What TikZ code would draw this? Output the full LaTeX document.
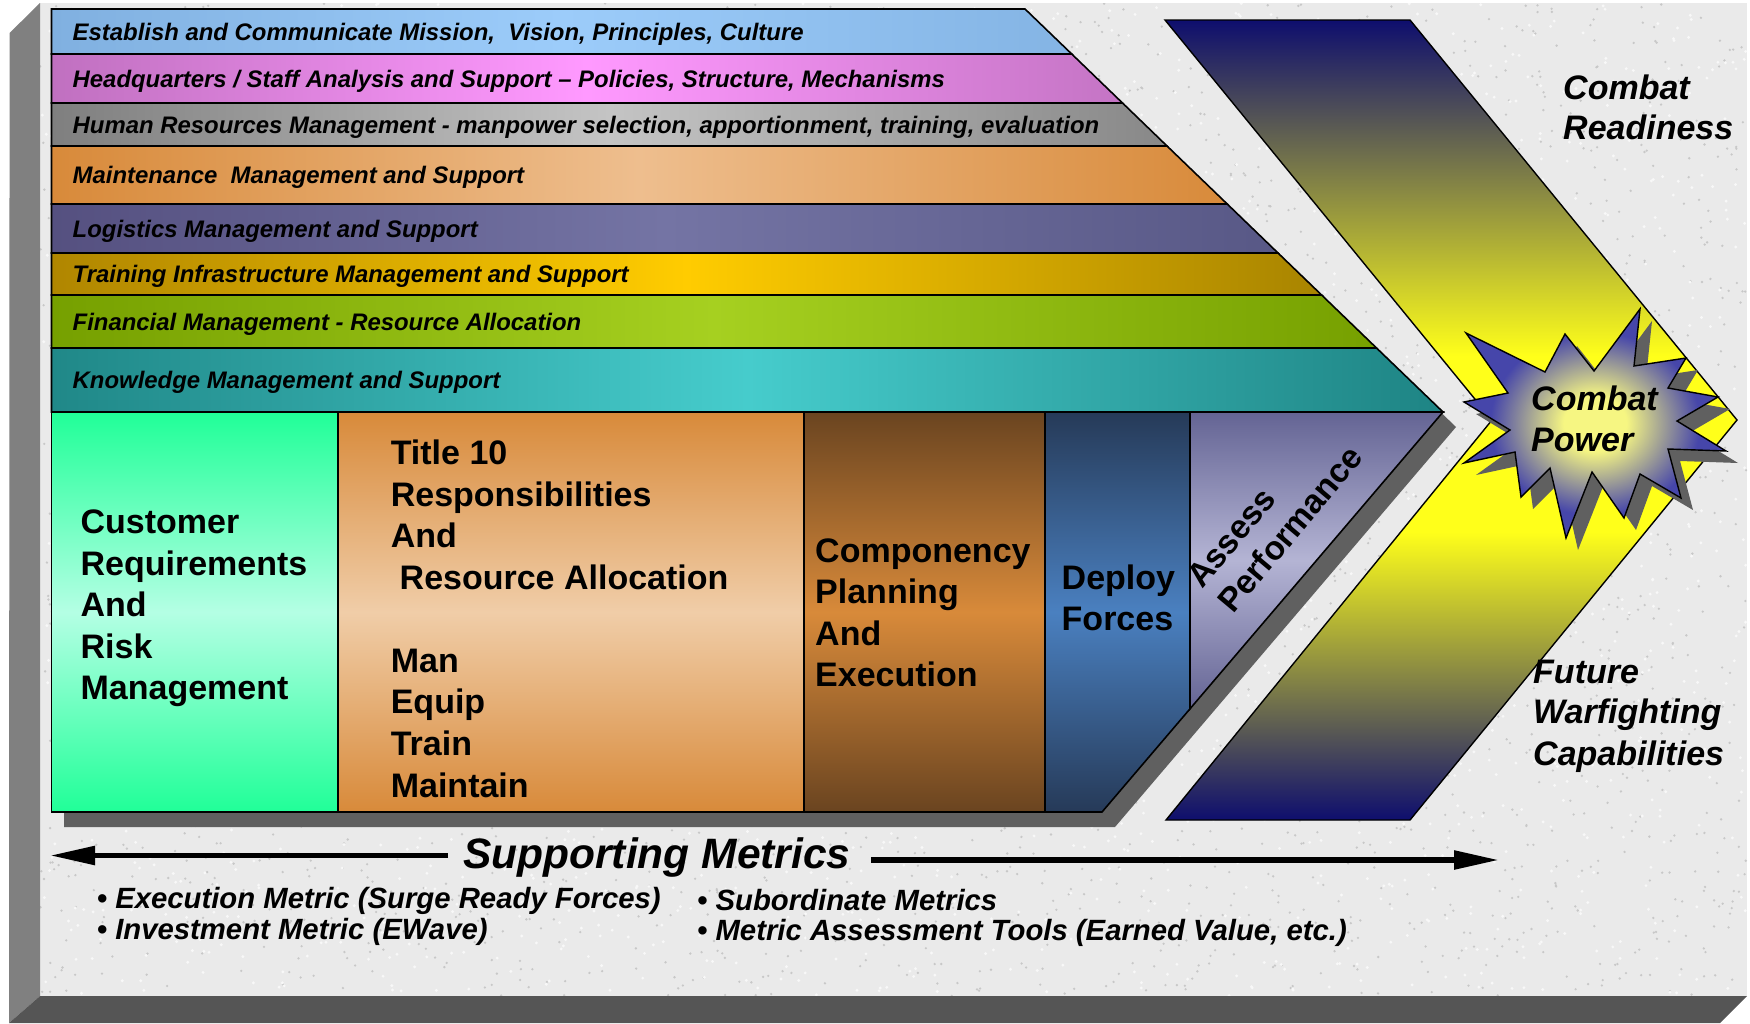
\documentclass[tikz,border=0pt]{standalone}
\usepackage{fontspec}
\setmainfont{Liberation Sans}
\usetikzlibrary{arrows.meta}
\definecolor{navyc}{RGB}{14,14,110}
\definecolor{yelc}{RGB}{255,255,26}
\definecolor{burstin}{RGB}{246,246,130}
\definecolor{burstout}{RGB}{70,70,170}
\definecolor{panel}{HTML}{EAEAEA}
\definecolor{speckd}{HTML}{C8C8C8}
\definecolor{speckl}{HTML}{F8F8F8}
\definecolor{bevl}{HTML}{808080}
\definecolor{bevb}{HTML}{555555}
\definecolor{shadowg}{HTML}{606060}
\definecolor{bIL}{HTML}{80B0E0}\definecolor{bIM}{HTML}{9CCCFA}\definecolor{bIR}{HTML}{84B4E4}
\definecolor{bIIL}{HTML}{C070C0}\definecolor{bIIM}{HTML}{FF99FF}\definecolor{bIIR}{HTML}{C474C4}
\definecolor{bIIIL}{HTML}{7F7F7F}\definecolor{bIIIM}{HTML}{C4C4C4}\definecolor{bIIIR}{HTML}{888888}
\definecolor{bIVL}{HTML}{D88A3A}\definecolor{bIVM}{HTML}{EEBE8E}\definecolor{bIVR}{HTML}{D88A3A}
\definecolor{bVL}{HTML}{555080}\definecolor{bVM}{HTML}{7474A4}\definecolor{bVR}{HTML}{585886}
\definecolor{bVIL}{HTML}{B08600}\definecolor{bVIM}{HTML}{FFCC00}\definecolor{bVIR}{HTML}{A88400}
\definecolor{bVIIL}{HTML}{76A000}\definecolor{bVIIM}{HTML}{A6D020}\definecolor{bVIIR}{HTML}{76A000}
\definecolor{bVIIIL}{HTML}{208888}\definecolor{bVIIIM}{HTML}{46CCCC}\definecolor{bVIIIR}{HTML}{1E8484}
\definecolor{custT}{HTML}{20FF98}\definecolor{custM}{HTML}{B4FFE4}
\definecolor{titT}{HTML}{D88A3A}\definecolor{titM}{HTML}{F0CDA8}
\definecolor{compT}{HTML}{6A4420}\definecolor{compM}{HTML}{D88A3A}
\definecolor{depT}{HTML}{263A58}\definecolor{depM}{HTML}{4A80C0}
\definecolor{assT}{HTML}{646494}\definecolor{assM}{HTML}{B4B4D4}
\pgfdeclareverticalshading{chevshade}{100bp}{color(0bp)=(navyc); color(25bp)=(navyc); color(43bp)=(yelc); color(54bp)=(yelc); color(75bp)=(navyc); color(100bp)=(navyc)}
\pgfdeclareradialshading{burstshade}{\pgfpoint{0bp}{0bp}}{color(0bp)=(burstin); color(6bp)=(burstin); color(20bp)=(burstout); color(50bp)=(burstout)}
\newcommand\bandfnt{\fontsize{23.9}{28}\selectfont\bfseries\itshape}
\newcommand\boxfnt{\fontsize{34}{40}\selectfont\bfseries}
\newcommand\bigitfnt{\fontsize{34}{40}\selectfont\bfseries\itshape}
\newcommand\metfnt{\fontsize{29.3}{34}\selectfont\bfseries\itshape}
\begin{document}
\begin{tikzpicture}[x=1pt,y=-1pt,
  outl/.style={draw=black, line width=1.6pt},
  bandtext/.style={anchor=base west, inner sep=0pt, font=\bandfnt},
  boxtext/.style={anchor=base west, inner sep=0pt, font=\boxfnt},
  bigit/.style={anchor=base west, inner sep=0pt, font=\bigitfnt},
  mettext/.style={anchor=base west, inner sep=0pt, font=\metfnt},
  metarrow/.style={line width=5.5pt, -{Triangle[length=45pt,width=18pt]}},
  starp/.style={insert path={(1466,333) -- (1545,372) -- (1565,334) -- (1594,371) -- (1640,309) -- (1634,366) -- (1686,358) -- (1668,388) -- (1718,397) -- (1677,421) -- (1726,451) -- (1668,449) -- (1681,498) -- (1640,474) -- (1624,518) -- (1592,472) -- (1566,538) -- (1550,468) -- (1521,497) -- (1515,452) -- (1464,463) -- (1510,430) -- (1464,402) -- (1508,393) -- cycle}}
]
\useasboundingbox (0,0) rectangle (1750,1023);
\fill[white] (0,0) rectangle (1750,1023);
% panel
\fill[panel] (40,3) rectangle (1747,996);
\begin{scope}
\clip (40,3) rectangle (1747,996);
\pgfmathsetseed{11}
\foreach \i in {1,...,3600} {
  \pgfmathsetmacro\rx{40+1707*rnd}
  \pgfmathsetmacro\ry{3+993*rnd}
  \fill[speckd] (\rx,\ry) circle (1.3);
}
\foreach \i in {1,...,2400} {
  \pgfmathsetmacro\rx{40+1707*rnd}
  \pgfmathsetmacro\ry{3+993*rnd}
  \fill[speckl] (\rx,\ry) circle (1.6);
}
\end{scope}
% bevels
\fill[bevl] (9.6,33) -- (40,3) -- (40,996) -- (9,1023) -- cycle;
\fill[bevb] (40,996) -- (1747,996) -- (1720,1023) -- (9,1023) -- cycle;
% main shadow
\fill[shadowg] (64,24) -- (1038,24) -- (1456,427) -- (1115,827) -- (64,827) -- cycle;
% bands
\path[outl, left color=bIL, right color=bIR, middle color=bIM] (51.5,9) -- (1025,9) -- (1071.7,54) -- (51.5,54) -- cycle;
\path[outl, left color=bIIL, right color=bIIR, middle color=bIIM] (51.5,54) -- (1071.7,54) -- (1122.5,103) -- (51.5,103) -- cycle;
\path[outl, left color=bIIIL, right color=bIIIR, middle color=bIIIM] (51.5,103) -- (1122.5,103) -- (1167,146) -- (51.5,146) -- cycle;
\path[outl, left color=bIVL, right color=bIVR, middle color=bIVM] (51.5,146) -- (1167,146) -- (1227.2,204) -- (51.5,204) -- cycle;
\path[outl, left color=bVL, right color=bVR, middle color=bVM] (51.5,204) -- (1227.2,204) -- (1278,253) -- (51.5,253) -- cycle;
\path[outl, left color=bVIL, right color=bVIR, middle color=bVIM] (51.5,253) -- (1278,253) -- (1321.6,295) -- (51.5,295) -- cycle;
\path[outl, left color=bVIIL, right color=bVIIR, middle color=bVIIM] (51.5,295) -- (1321.6,295) -- (1376.5,348) -- (51.5,348) -- cycle;
\path[outl, left color=bVIIIL, right color=bVIIIR, middle color=bVIIIM] (51.5,348) -- (1376.5,348) -- (1443,412) -- (51.5,412) -- cycle;
% lower boxes
\path[outl, top color=custT, bottom color=custT, middle color=custM] (51.5,412) rectangle (338,812);
\path[outl, top color=titT, bottom color=titT, middle color=titM] (338,412) rectangle (804,812);
\path[outl, top color=compT, bottom color=compT, middle color=compM] (804,412) rectangle (1045,812);
\path[outl, top color=depT, bottom color=depT, middle color=depM] (1045,412) -- (1190,412) -- (1190,708.8) -- (1102,812) -- (1045,812) -- cycle;
\path[outl, top color=assT, bottom color=assT, middle color=assM] (1190,412) -- (1443,412) -- (1190,708.8) -- cycle;
% chevron
\path[draw=black, line width=1.4pt, shading=chevshade] (1165,20) -- (1410,20) -- (1737,420) -- (1410,820) -- (1166,820) -- (1492,420) -- cycle;
% starburst
\begin{scope}[shift={(12,12)}]
\fill[shadowg] [starp];
\end{scope}
\path[draw=black, line width=1.4pt, shading=burstshade] [starp];
% band texts
\node[bandtext] (t1) at (72.5,40) {Establish and Communicate Mission,\ \ Vision, Principles, Culture};
\node[bandtext] (t2) at (72.5,87) {Headquarters / Staff Analysis and Support \textendash\ Policies, Structure, Mechanisms};
\node[bandtext] (t3) at (72.5,133) {Human Resources Management - manpower selection, apportionment, training, evaluation};
\node[bandtext] (t4) at (72.5,183.5) {Maintenance\ \ Management and Support};
\node[bandtext] (t5) at (72.5,237) {Logistics Management and Support};
\node[bandtext] (t6) at (72.5,282.5) {Training Infrastructure Management and Support};
\node[bandtext] (t7) at (72.5,330) {Financial Management - Resource Allocation};
\node[bandtext] (t8) at (72.5,388.5) {Knowledge Management and Support};
% box texts
\node[boxtext] (cu1) at (80.4,533.5) {Customer};
\node[boxtext] (cu2) at (80.4,575) {Requirements};
\node[boxtext] (cu3) at (80.4,616.5) {And};
\node[boxtext] (cu4) at (80.4,658) {Risk};
\node[boxtext] (cu5) at (80.4,699.5) {Management};
\node[boxtext] (ti1) at (390.6,464) {Title 10};
\node[boxtext] (ti2) at (390.6,506) {Responsibilities};
\node[boxtext] (ti3) at (390.6,547) {And};
\node[boxtext] (ti4) at (399.5,589) {Resource Allocation};
\node[boxtext] (ti5) at (390.6,672) {Man};
\node[boxtext] (ti6) at (390.6,713.5) {Equip};
\node[boxtext] (ti7) at (390.6,755) {Train};
\node[boxtext] (ti8) at (390.6,797) {Maintain};
\node[boxtext] (co1) at (815,562) {Componency};
\node[boxtext] (co2) at (815,603.5) {Planning};
\node[boxtext] (co3) at (815,645) {And};
\node[boxtext] (co4) at (815,686.5) {Execution};
\node[boxtext] (de1) at (1061.5,589) {Deploy};
\node[boxtext] (de2) at (1061.5,630) {Forces};
\node[boxtext, font=\fontsize{33.5}{40}\selectfont\bfseries, rotate=50] (as1) at (1202,590) {Assess};
\node[boxtext, font=\fontsize{33.5}{40}\selectfont\bfseries, rotate=50] (as2) at (1233,615) {Performance};
% right texts
\node[bigit] (cr1) at (1563,99) {Combat};
\node[bigit] (cr2) at (1563,139) {Readiness};
\node[bigit] (cp1) at (1531,410) {Combat};
\node[bigit] (cp2) at (1531,451.5) {Power};
\node[bigit] (fw1) at (1533,683) {Future};
\node[bigit] (fw2) at (1533,723.5) {Warfighting};
\node[bigit] (fw3) at (1533,765) {Capabilities};
% supporting metrics
\node[anchor=base west, inner sep=0pt, font=\fontsize{42.5}{48}\selectfont\bfseries\itshape] (sm) at (463,868) {Supporting Metrics};
\coordinate (la0) at (448,855.5);
\coordinate (la1) at (50,855.5);
\coordinate (ra0) at (871,860);
\coordinate (ra1) at (1499,860);
\draw[metarrow] (la0) -- (la1);
\draw[metarrow] (ra0) -- (ra1);
\node[mettext] (m1) at (96.7,908.5) {\textbullet\ Execution Metric (Surge Ready Forces)};
\node[mettext] (m2) at (96.7,939) {\textbullet\ Investment Metric (EWave)};
\node[mettext] (m3) at (697,910) {\textbullet\ Subordinate Metrics};
\node[mettext] (m4) at (697,940) {\textbullet\ Metric Assessment Tools (Earned Value, etc.)};
\end{tikzpicture}
\end{document}
